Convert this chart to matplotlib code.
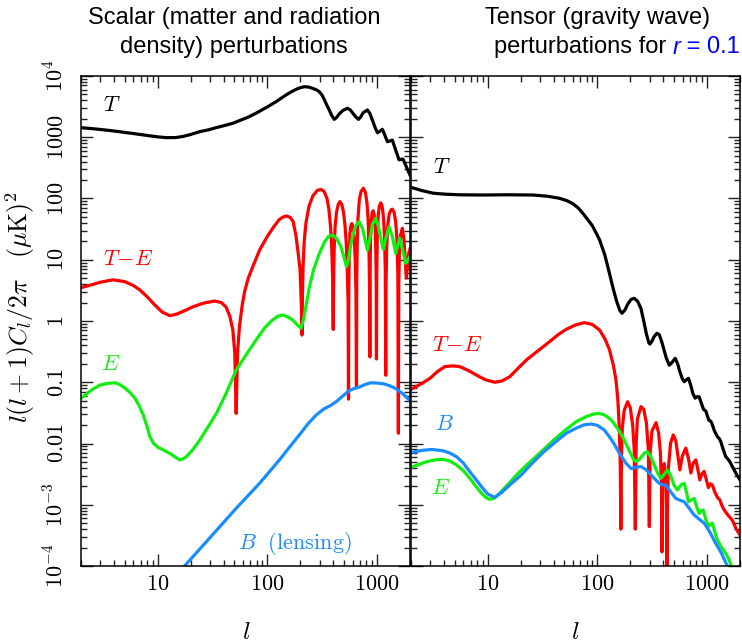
import numpy as np
import matplotlib
matplotlib.use("Agg")
import matplotlib.pyplot as plt
from matplotlib.ticker import LogLocator, NullFormatter

plt.rcParams['mathtext.fontset'] = 'cm'

# ---- scalar (left panel) ----
l_T_s = [2, 2.5, 3, 4, 5, 6, 8, 10, 12, 14.5, 17, 20, 24, 29, 34, 41, 48.5, 57, 67, 80,
         101, 120, 148, 165, 183, 200, 217, 237, 258, 280, 298, 315, 330, 350, 367, 385,
         407, 428, 452, 490, 538, 570, 598, 640, 678, 710, 748, 818, 860, 907, 960, 1009,
         1060, 1120, 1180, 1245, 1310, 1380, 1480, 1590, 1660, 1727, 1850, 2000]
T_s = [1432, 1385, 1340, 1265, 1200, 1150, 1070, 1015, 985, 988, 1030, 1110, 1230, 1320, 1430,
       1560, 1690, 1900, 2130, 2500, 3160, 3800, 4900, 5500, 6050, 6450, 6680, 6600, 6300, 5950,
       5540, 4900, 4160, 3300, 2790, 2300, 1960, 2100, 2400, 2750, 2970, 2800, 2510, 2150, 1960,
       2150, 2510, 2790, 2450, 1910, 1450, 1186, 1250, 1350, 1080, 845, 870, 900, 620, 427,
       435, 440, 330, 242]

l_TE_s = [2, 2.5, 3, 3.9, 5, 6, 6.9, 8, 9.5, 11, 12.9, 15, 18, 21, 26, 33, 38, 42, 45.5, 48.5,
          50.5, 52, 53.5, 55.7, 59, 62, 67, 73.7, 85, 100, 115, 129, 140, 150, 162, 172, 183,
          192, 199, 204, 207,
          209, 212, 217, 225, 240, 260, 285, 308, 330, 350, 365, 377, 387, 394, 399,
          402, 407, 415, 428, 443, 459, 478, 495, 512, 525, 537, 545, 550,
          553, 558, 567, 578, 590, 605, 620, 633, 643, 650,
          653, 660, 670, 690, 715, 752, 785, 810, 830, 845, 855, 861,
          865, 872, 885, 903, 922, 942, 960, 975, 984, 989,
          995, 1005, 1025, 1050, 1083, 1115, 1145, 1170, 1190, 1202,
          1210, 1225, 1250, 1290, 1340, 1380, 1430, 1480, 1520, 1550, 1567,
          1580, 1600, 1640, 1703, 1760, 1810, 1853, 1900, 1950, 2000]
TE_s = [3.5, 3.9, 4.3, 4.7, 4.4, 3.8, 3.2, 2.5, 1.8, 1.4, 1.22, 1.3, 1.5, 1.71, 1.95, 2.12, 2.0,
        1.7, 1.2, 0.71, 0.3, 0.031, 0.3, 0.81, 1.8, 3.0, 5.0, 7.7, 14.4, 24, 35, 45.7, 50, 52,
        49, 42, 23.8, 12, 6.8, 2.0, 0.59,
        2.5, 8, 20, 40, 75, 110, 135, 141, 130, 100, 65, 35, 15, 5, 0.73,
        4, 15, 35, 60, 80, 89, 80, 60, 35, 18, 6, 2, 0.053,
        3, 12, 27, 36, 39, 34, 22, 10, 3, 0.085,
        4, 18, 45, 95, 130, 147, 125, 85, 45, 15, 4, 0.26,
        5, 20, 42, 58, 63, 55, 38, 15, 4, 0.24,
        5, 22, 52, 75, 85, 75, 50, 25, 7, 0.13,
        4, 15, 35, 55, 65, 67, 60, 42, 22, 6, 0.0147,
        4, 12, 25, 32.6, 22, 10, 5, 8, 13, 15]

l_E_s = [2, 2.5, 2.98, 3.5, 4.07, 4.5, 5.0, 5.6, 6.2, 6.8, 7.4, 8, 8.5, 9.2, 10.1, 11.5, 12.9,
         14.5, 15.9, 17, 18.3, 21, 24.2, 29, 34.3, 42, 52, 64, 79, 85, 95, 110, 125, 138, 152,
         170, 188, 203, 215, 228, 242, 265, 298, 330, 360, 394, 430, 469, 500, 527, 550, 575,
         598, 640, 688, 740, 780, 818, 860, 910, 975, 1030, 1090, 1143, 1200, 1288, 1380,
         1482, 1540, 1611, 1720, 1827, 1900, 2000]
E_s = [0.0547, 0.075, 0.090, 0.096, 0.098, 0.092, 0.081, 0.068, 0.055, 0.041, 0.029, 0.019,
       0.0129, 0.0100, 0.00865, 0.0077, 0.0069, 0.006, 0.0054, 0.0056, 0.0061, 0.008, 0.0114,
       0.019, 0.031, 0.065, 0.158, 0.28, 0.49, 0.59, 0.78, 1.02, 1.2, 1.25, 1.18, 1.04, 0.86,
       0.76, 1.1, 2.0, 3.6, 7.0, 12.7, 19, 24, 25.4, 22, 16.3, 11, 7.7, 10, 17, 23.8, 36, 41.9,
       32, 21, 14.4, 22, 38, 47.5, 35, 21, 14.8, 22, 34.7, 24, 12.7, 17, 22.4, 14, 8.75, 9.5,
       11.5]

l_B_s = [17.6, 30, 52, 85, 129, 160, 196, 235, 278, 330, 380, 423, 490, 557, 620, 687, 780,
         877, 1000, 1161, 1300, 1483, 1700, 2000]
B_s = [1e-4, 0.00029, 0.000875, 0.00224, 0.0054, 0.0088, 0.0138, 0.021, 0.029, 0.037, 0.042,
       0.048, 0.060, 0.073, 0.079, 0.083, 0.092, 0.098, 0.097, 0.094, 0.088, 0.079, 0.066, 0.050]

# ---- tensor (right panel, r = 0.1) ----
l_T_t = [2, 2.5, 3.19, 4, 5.5, 9.1, 15, 25.9, 35, 45, 53, 60, 67, 74, 82, 90, 97, 105, 117,
         129, 140, 150, 160, 168, 178, 190, 203, 217, 233, 250, 265, 280, 295, 302, 315, 330,
         350, 367, 385, 400, 425, 453, 480, 513, 540, 565, 595, 620, 650, 678, 710, 745, 780,
         810, 848, 890, 930, 975, 1010, 1040, 1070, 1100, 1170, 1245, 1290, 1330, 1400, 1483,
         1560, 1620, 1703, 1850, 2000]
T_t = [152, 135, 122, 118, 115, 114, 115, 114, 109, 101, 92, 82, 70, 57, 45, 36, 28, 21, 12,
       6.0, 3.3, 2.1, 1.5, 1.34, 1.5, 1.9, 2.25, 2.35, 2.1, 1.6, 1.0, 0.62, 0.44, 0.42, 0.47,
       0.56, 0.63, 0.6, 0.47, 0.37, 0.25, 0.19, 0.21, 0.246, 0.2, 0.15, 0.115, 0.102, 0.11,
       0.116, 0.09, 0.065, 0.055, 0.058, 0.058, 0.045, 0.036, 0.034, 0.028, 0.024, 0.0235,
       0.022, 0.016, 0.0129, 0.0121, 0.011, 0.0082, 0.0061, 0.0055, 0.005, 0.0042, 0.0032,
       0.00254]

l_TE_t = [2, 2.5, 2.98, 3.5, 4.07, 4.8, 5.57, 6.7, 7.9, 9.5, 11.6, 13.5, 15.9, 19, 22.5, 29,
          36.7, 44, 52, 63, 76, 90, 105, 118, 129, 140, 148, 154, 159, 162, 164, 166, 169, 176,
          189, 200, 210, 217, 222, 226, 232, 250, 265, 280, 292, 298, 303, 315, 343, 362, 376,
          385, 388, 392, 400, 408, 418, 426, 431, 436, 445, 465, 492, 520, 545, 566, 595, 641,
          680, 713, 750, 791, 825, 860, 900, 942, 985, 1030, 1075, 1120, 1180, 1250, 1310,
          1381, 1450, 1550, 1703, 1850, 2000]
TE_t = [0.0766, 0.095, 0.116, 0.15, 0.18, 0.185, 0.18, 0.155, 0.131, 0.11, 0.1, 0.105, 0.123,
        0.17, 0.23, 0.33, 0.46, 0.6, 0.73, 0.86, 0.94, 0.88, 0.71, 0.5, 0.34, 0.19, 0.109, 0.05,
        0.0166, 0.004, 0.0004, 0.006, 0.018, 0.035, 0.048, 0.038, 0.02, 0.008, 0.0004, 0.01,
        0.025, 0.040, 0.036, 0.022, 0.008, 0.00044, 0.007, 0.016, 0.0219, 0.015, 0.007, 0.002,
        0.00017, 0.002, 0.0042, 0.0047, 0.003, 0.001, 0.0001, 0.001, 0.004, 0.010, 0.0138,
        0.011, 0.006, 0.0037, 0.0062, 0.0084, 0.0055, 0.0033, 0.0048, 0.0054, 0.0038, 0.00254,
        0.0032, 0.0035, 0.0026, 0.0019, 0.0022, 0.0021, 0.0016, 0.0013, 0.0012, 0.00093,
        0.0008, 0.00068, 0.00056, 0.0004, 0.00032]

l_E_t = [2, 2.4, 2.78, 3.3, 3.93, 4.5, 5.2, 6, 6.87, 7.8, 8.8, 9.6, 10.4, 11.5, 12.9, 15.5,
         19.6, 25, 31.9, 41, 52, 65, 79, 92, 103, 115, 128, 138, 155, 170, 185, 200, 212, 225,
         240, 255, 272, 287, 305, 330, 355, 380, 405, 437, 470, 500, 538, 580, 620, 650, 678,
         720, 764, 805, 848, 885, 922, 975, 1030, 1075, 1120, 1180, 1245, 1360, 1483, 1580,
         1667]
E_t = [0.00408, 0.0046, 0.00505, 0.0054, 0.0055, 0.0052, 0.00446, 0.0036, 0.0027, 0.002,
       0.00154, 0.00132, 0.00123, 0.00128, 0.00154, 0.0022, 0.00347, 0.0052, 0.0078, 0.0118,
       0.017, 0.023, 0.0274, 0.0302, 0.031, 0.0295, 0.026, 0.0227, 0.017, 0.0129, 0.0094,
       0.007, 0.0057, 0.00505, 0.0054, 0.0062, 0.0071, 0.0073, 0.0062, 0.0045, 0.0033, 0.0027,
       0.0031, 0.0037, 0.0029, 0.0021, 0.00174, 0.0021, 0.00224, 0.0016, 0.00112, 0.0012,
       0.00127, 0.00093, 0.00072, 0.0008, 0.00082, 0.00058, 0.00044, 0.00048, 0.0005,
       0.00036, 0.000265, 0.0002, 0.000161, 0.00013, 0.0001]

l_B_t = [2, 2.5, 3.08, 3.93, 4.5, 5.2, 6, 6.87, 7.8, 8.8, 10, 11.6, 13.5, 15.9, 20, 25, 31.9,
         41, 52, 65, 76, 88, 100, 115, 129, 145, 159, 180, 203, 225, 250, 275, 298, 330, 367,
         395, 421, 470, 520, 570, 620, 690, 764, 850, 942, 1060, 1201, 1360, 1531]
B_t = [0.0071, 0.0077, 0.008, 0.0076, 0.007, 0.0061, 0.0048, 0.00347, 0.0026, 0.00197,
       0.0015, 0.00132, 0.0016, 0.0021, 0.003, 0.0046, 0.0071, 0.0104, 0.0147, 0.018, 0.0202,
       0.0208, 0.0198, 0.0168, 0.0129, 0.0093, 0.0069, 0.0049, 0.0039, 0.0041, 0.0042,
       0.0038, 0.0033, 0.0027, 0.00224, 0.0021, 0.0021, 0.0016, 0.00127, 0.00118, 0.00112,
       0.00087, 0.00068, 0.00058, 0.0005, 0.00036, 0.000234, 0.00016, 0.0001]

RED = '#ff0000'
GREEN = '#11ee11'
BLUE = '#1a8cff'

W, H = 742, 644
fig = plt.figure(figsize=(W / 100, H / 100), dpi=100)
ax1 = fig.add_axes([81 / W, 78 / H, 329 / W, 490 / H])
ax2 = fig.add_axes([411 / W, 78 / H, 329 / W, 490 / H])

lw = 2.3
ax1.plot(l_T_s, T_s, color='black', lw=lw)
ax1.plot(l_TE_s, TE_s, color=RED, lw=lw)
ax1.plot(l_E_s, E_s, color=GREEN, lw=lw)
ax1.plot(l_B_s, B_s, color=BLUE, lw=lw)

ax2.plot(l_T_t, T_t, color='black', lw=lw)
ax2.plot(l_TE_t, TE_t, color=RED, lw=lw)
ax2.plot(l_E_t, E_t, color=GREEN, lw=lw)
ax2.plot(l_B_t, B_t, color=BLUE, lw=lw)

yt = [10.0 ** k for k in range(-4, 5)]
ylabs = [r'$10^{-4}$', r'$10^{-3}$', r'$0.01$', r'$0.1$', r'$1$', r'$10$', r'$100$', r'$1000$', r'$10^{4}$']

for ax in (ax1, ax2):
    ax.set_xscale('log')
    ax.set_yscale('log')
    ax.set_xlim(2, 2000)
    ax.set_ylim(1e-4, 1e4)
    ax.set_xticks([10, 100, 1000], [r'$10$', r'$100$', r'$1000$'])
    ax.xaxis.set_minor_locator(LogLocator(base=10, subs=np.arange(2, 10)))
    ax.xaxis.set_minor_formatter(NullFormatter())
    ax.set_yticks(yt, ylabs)
    ax.yaxis.set_minor_locator(LogLocator(base=10, subs=np.arange(2, 10), numticks=20))
    ax.yaxis.set_minor_formatter(NullFormatter())
    ax.tick_params(which='both', direction='in', top=True, right=True, width=1.0, color='#222222')
    ax.tick_params(which='major', length=8.5, labelsize=16)
    ax.tick_params(which='minor', length=4.3)
    ax.tick_params(axis='x', pad=6)
    ax.tick_params(axis='y', pad=10)
    for s in ax.spines.values():
        s.set_linewidth(1.1)

ax2.tick_params(axis='y', labelleft=False)
plt.setp(ax1.get_yticklabels(), rotation=90, va='center')

# curve labels
fs = 16
ax1.text(3.83, 3300, r'$T$', fontsize=fs, ha='center', va='center')
ax1.text(5.35, 10.1, r'$T\!-\!E$', fontsize=fs, color=RED, ha='center', va='center')
ax1.text(3.71, 0.2, r'$E$', fontsize=fs, color=GREEN, ha='center', va='center')
ax1.text(180, 2.33e-4, r'$B\ \ (\mathrm{lensing})$', fontsize=fs, color=BLUE, ha='center', va='center')
ax2.text(3.8, 327, r'$T$', fontsize=fs, ha='center', va='center')
ax2.text(5.3, 0.4, r'$T\!-\!E$', fontsize=fs, color=RED, ha='center', va='center')
ax2.text(4.07, 0.021, r'$B$', fontsize=fs, color=BLUE, ha='center', va='center')
ax2.text(3.71, 0.0019, r'$E$', fontsize=fs, color=GREEN, ha='center', va='center')

# axis labels
fig.text(20 / W, 1 - 307 / H, r'$l(l+1)C_l/2\pi\ \ \ (\mu\mathrm{K})^2$', fontsize=18.5,
         rotation=90, ha='center', va='center')
fig.text(246 / W, 1 - 632 / H, r'$l$', fontsize=18, ha='center', va='center')
fig.text(575 / W, 1 - 632 / H, r'$l$', fontsize=18, ha='center', va='center')

# panel titles
tfont = dict(family=['Liberation Sans', 'DejaVu Sans'], fontsize=17, va='center')
fig.text(234 / W, 1 - 18 / H, 'Scalar (matter and radiation', ha='center', **tfont)
fig.text(234 / W, 1 - 47 / H, 'density) perturbations', ha='center', **tfont)
fig.text(598 / W, 1 - 18 / H, 'Tensor (gravity wave)', ha='center', **tfont)

pieces = [fig.text(0, 1 - 47 / H, 'perturbations for ', ha='left', **tfont),
          fig.text(0, 1 - 47 / H, 'r', ha='left', color='blue', style='italic', **tfont),
          fig.text(0, 1 - 47 / H, ' = 0.1', ha='left', color='blue', **tfont)]
fig.canvas.draw()
rend = fig.canvas.get_renderer()
widths = [p.get_window_extent(rend).width for p in pieces]
x = 617 - sum(widths) / 2
for p, w in zip(pieces, widths):
    p.set_x(x / W)
    x += w

fig.savefig('out.png', dpi=100)
